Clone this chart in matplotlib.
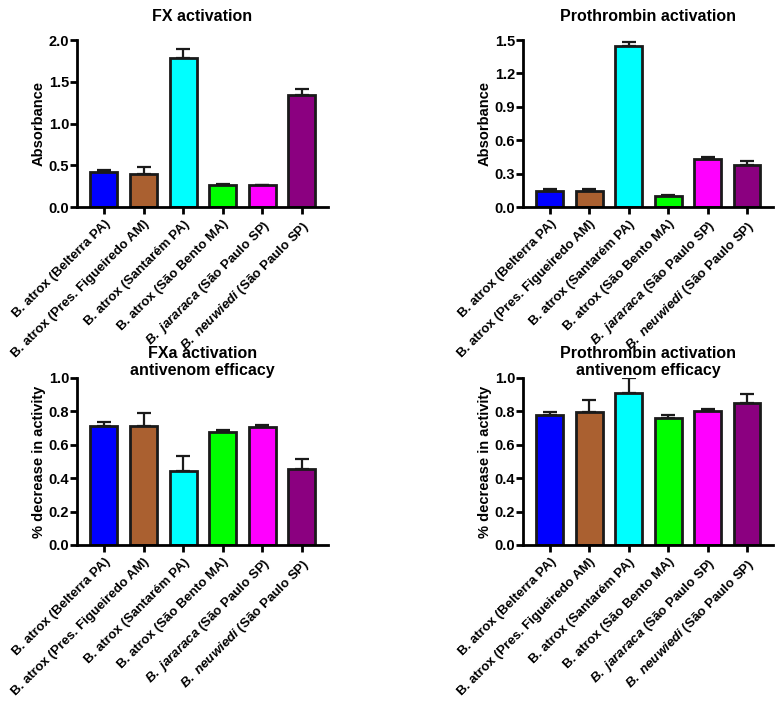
import matplotlib
matplotlib.use("Agg")
import matplotlib.pyplot as plt
import numpy as np

plt.rcParams['font.family'] = ['Liberation Sans', 'DejaVu Sans']
plt.rcParams['font.weight'] = 'bold'
plt.rcParams['mathtext.fontset'] = 'custom'
plt.rcParams['mathtext.it'] = 'Liberation Sans:italic:bold'
plt.rcParams['mathtext.rm'] = 'Liberation Sans:bold'

labels = [
    "B. atrox (Belterra PA)",
    "B. atrox (Pres. Figueiredo AM)",
    "B. atrox (Santarém PA)",
    "B. atrox (São Bento MA)",
    r"$\mathit{B.\ jararaca}$ (São Paulo SP)",
    r"$\mathit{B.\ neuwiedi}$ (São Paulo SP)",
]
colors = ["#0000FF", "#AA6030", "#00FFFF", "#00FF00", "#FF00FF", "#8B0080"]

# FX activation (absorbance)
fx_mean = [0.42, 0.40, 1.79, 0.26, 0.26, 1.34]
fx_err = [0.02, 0.08, 0.10, 0.02, 0.0, 0.07]
# Prothrombin activation (absorbance)
pt_mean = [0.144, 0.144, 1.446, 0.096, 0.429, 0.375]
pt_err = [0.018, 0.018, 0.033, 0.015, 0.021, 0.035]
# FXa activation antivenom efficacy
fxa_ae_mean = [0.712, 0.714, 0.446, 0.674, 0.704, 0.456]
fxa_ae_err = [0.022, 0.074, 0.086, 0.014, 0.016, 0.058]
# Prothrombin activation antivenom efficacy
pt_ae_mean = [0.780, 0.794, 0.912, 0.760, 0.800, 0.848]
pt_ae_err = [0.016, 0.072, 0.088, 0.016, 0.014, 0.058]

panels = [
    ("FX activation", "Absorbance", fx_mean, fx_err, 2.0, np.arange(0, 2.01, 0.5),
     [77, 40, 328, 207], 14),
    ("Prothrombin activation", "Absorbance", pt_mean, pt_err, 1.5, np.arange(0, 1.51, 0.3),
     [523, 40, 773, 207], 14),
    ("FXa activation\nantivenom efficacy", "% decrease in activity", fxa_ae_mean, fxa_ae_err, 1.0,
     np.arange(0, 1.01, 0.2), [77, 378, 328, 545], 1),
    ("Prothrombin activation\nantivenom efficacy", "% decrease in activity", pt_ae_mean, pt_ae_err, 1.0,
     np.arange(0, 1.01, 0.2), [523, 378, 773, 545], 1),
]

W, H = 781, 701
fig = plt.figure(figsize=(W / 100, H / 100), dpi=100)

for title, ylabel, mean, err, ymax, yticks, box, pad in panels:
    x0, y0, x1, y1 = box
    ax = fig.add_axes([x0 / W, (H - y1) / H, (x1 - x0) / W, (y1 - y0) / H])
    x = np.arange(len(mean))
    ax.bar(x, mean, width=0.68, color=colors, edgecolor="#1a1a1a", linewidth=2, zorder=2)
    ax.errorbar(x, mean, yerr=[np.zeros(len(err)), err], fmt="none", ecolor="#1a1a1a",
                elinewidth=1.6, capsize=5, capthick=1.6, zorder=1)
    ax.set_xlim(-0.68, 5.66)
    ax.set_ylim(0, ymax)
    ax.set_yticks(yticks)
    ax.set_yticklabels(["%.1f" % v for v in yticks], fontsize=10.5, fontweight="bold")
    ax.set_xticks(x)
    ax.set_xticklabels(labels, rotation=45, ha="right", rotation_mode="anchor",
                       fontsize=9.5, fontweight="bold")
    ax.set_ylabel(ylabel, fontsize=10.5, fontweight="bold", labelpad=2)
    ax.set_title(title, fontsize=11.5, fontweight="bold", pad=pad, linespacing=1.15)
    for s in ["top", "right"]:
        ax.spines[s].set_visible(False)
    for s in ["left", "bottom"]:
        ax.spines[s].set_linewidth(2)
    ax.tick_params(axis="both", width=2, length=5, direction="out")
    ax.tick_params(axis="y", pad=0.5)
    ax.tick_params(axis="x", pad=3)

fig.savefig("out.png", dpi=100)
